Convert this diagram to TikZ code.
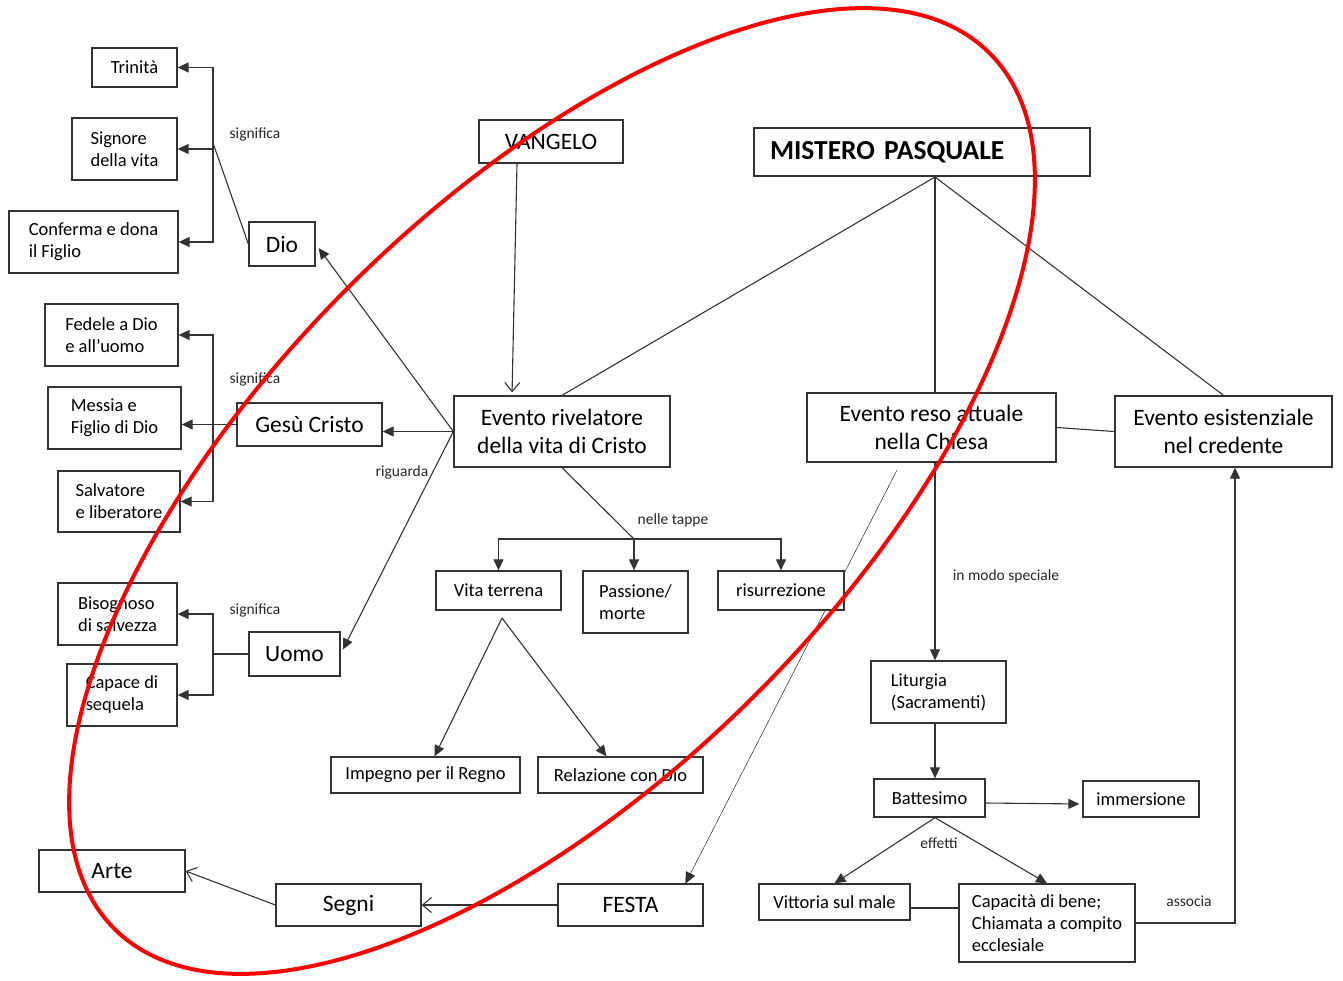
\documentclass[tikz,border=0pt]{standalone}
\usepackage{fontspec}
\setmainfont{Carlito}
\usetikzlibrary{arrows.meta, calc}
\pgfdeclarelayer{back}
\pgfsetlayers{back,main}

\begin{document}
\begin{tikzpicture}[x=1pt, y=-1pt, line width=1.1pt, draw=black!80,
    box/.style={draw=black!80, fill=white, line width=1.3pt, inner sep=2pt, align=left,
        font=\fontsize{18.5}{22}\selectfont},
    big/.style={box, align=center, font=\fontsize{23.5}{28}\selectfont},
    sz/.style 2 args={minimum width=#1pt, minimum height=#2pt},
    lbl/.style={font=\fontsize{15.5}{18}\selectfont, text=black!85},
    tri/.style={-{Triangle[length=11pt, width=10pt]}},
    opn/.style={-{Straight Barb[length=9pt, width=15pt]}}]
    \useasboundingbox (0,0) rectangle (1343,980);

    \node[box, sz={85}{39}] (trinita) at (134.5,67.5) {Trinità};
    \node[box, sz={105}{62}] (signore) at (124.5,149) {Signore\\della vita};
    \node[box, sz={169}{62}] (conferma) at (93.5,242) {Conferma e dona\\il Figlio};
    \node[big, sz={66}{44}] (dio) at (282,244) {Dio};
    \node[box, sz={133}{62}] (fedele) at (111.5,335) {Fedele a Dio\\e all’uomo};
    \node[box, sz={133}{62}] (messia) at (114.5,418) {Messia e\\Figlio di Dio};
    \node[big, sz={145}{43}] (gesu) at (309.5,424.5) {Gesù Cristo};
    \node[box, sz={122}{61}] (salvatore) at (119,501.5) {Salvatore\\e liberatore};
    \node[box, sz={119}{62}] (bisognoso) at (117.5,614) {Bisognoso\\di salvezza};
    \node[box, sz={110}{62}] (capace) at (122,695) {Capace di\\sequela};
    \node[big, sz={91}{44}] (uomo) at (294.5,654) {Uomo};

    \node[big, sz={144}{43}] (vangelo) at (551,141.5) {VANGELO};
    \node[box, sz={336}{48}, inner xsep=16pt, text width=304pt,
        font=\fontsize{27.5}{30}\selectfont\bfseries] (mistero) at (922,152) {MISTERO PASQUALE};
    \node[big, sz={216}{71}] (rivelatore) at (562,431.5) {Evento rivelatore\\della vita di Cristo};
    \node[big, sz={249}{69}] (attuale) at (931.5,427.5) {Evento reso attuale\\nella Chiesa};
    \node[big, sz={217}{71}] (esistenziale) at (1223.5,431.5) {Evento esistenziale\\nel credente};

    \node[box, sz={125}{39}] (vita) at (498.5,590.5) {Vita terrena};
    \node[box, sz={105}{62}] (passione) at (635.5,602) {Passione/\\morte};
    \node[box, sz={126}{39}] (risurrezione) at (781,590.5) {risurrezione};
    \node[box, sz={189}{36}] (impegno) at (425.5,775) {Impegno per il Regno};
    \node[box, sz={165}{36}] (relazione) at (620.5,775) {Relazione con Dio};

    \node[box, sz={135}{62}] (liturgia) at (938.5,692) {Liturgia\\(Sacramenti)};
    \node[box, sz={111}{38}] (battesimo) at (929.5,798) {Battesimo};
    \node[box, sz={116}{36}] (immersione) at (1141,799) {immersione};
    \node[box, sz={151}{36}] (vittoria) at (834.5,902) {Vittoria sul male};
    \node[box, sz={176}{78}] (capacita) at (1047,923) {Capacità di bene;\\Chiamata a compito\\ecclesiale};

    \node[big, sz={146}{42}] (arte) at (112,871) {Arte};
    \node[big, sz={145}{42}] (segni) at (348.5,905) {Segni};
    \node[big, sz={145}{42}] (festa) at (630.5,905) {FESTA};

    \node[lbl] (sig1) at (255,134) {significa};
    \node[lbl] (sig2) at (255,379) {significa};
    \node[lbl] (sig3) at (255,610) {significa};
    \node[lbl] (rig) at (402,472) {riguarda};
    \node[lbl] (tap) at (673,520) {nelle tappe};
    \node[lbl] (spec) at (1006,576) {in modo speciale};
    \node[lbl] (eff) at (939,843) {effetti};
    \node[lbl] (ass) at (1189,901) {associa};

    \coordinate (dj) at (213,143);
    \coordinate (gj) at (213,424.5);
    \coordinate (uj) at (213,654);
    \coordinate (mp) at (935,177);
    \coordinate (nt) at (634,539);
    \coordinate (vt) at (502,618);
    \coordinate (af) at (897,470);

    \draw (dio.west) -- (dj);
    \draw[tri] (dj) |- (trinita);
    \draw[tri] (dj) |- (signore);
    \draw[tri] (dj) |- (conferma);
    \draw[tri] (gesu) -- (messia.east |- gesu);
    \draw[tri] (gj) |- (fedele);
    \draw[tri] (gj) |- (salvatore);
    \draw (uomo) -- (uj);
    \draw[tri] (uj) |- (bisognoso);
    \draw[tri] (uj) |- (capace);

    \draw[tri] (rivelatore.west) -- (gesu.east |- rivelatore.west);
    \draw[tri, shorten >=5pt] (rivelatore.west) -- (dio.east);
    \draw[tri, shorten >=5pt] (rivelatore.west) -- (uomo.east);
    \draw[opn, shorten >=3pt] ([xshift=-34pt]vangelo.south) -- ([xshift=-50pt]rivelatore.north);

    \draw (mp) -- (rivelatore.north);
    \draw (mp) -- (mp |- attuale.north);
    \draw (mp) -- (esistenziale.north);
    \draw (attuale.east) -- (esistenziale.west);

    \draw (rivelatore.south) -- (nt);
    \draw[tri] (nt) -| (vita);
    \draw[tri] (nt) -- (nt |- passione.north);
    \draw[tri] (nt) -| (risurrezione);
    \draw[tri] (vt) -- (impegno);
    \draw[tri] (vt) -- (relazione);

    \draw[tri] (mp |- attuale.south) -- (mp |- liturgia.north);
    \draw[tri] (mp |- liturgia.south) -- (mp |- battesimo.north);
    \draw[tri, shorten >=3pt] ([yshift=-5pt]battesimo.east) -- ([yshift=-5pt]immersione.west);
    \draw[tri] (mp |- battesimo.south) -- (vittoria.north);
    \draw[tri] (mp |- battesimo.south) -- (capacita.north);
    \draw ([yshift=-6pt]vittoria.east) -- ([yshift=-6pt]vittoria.east -| capacita.west);
    \draw[tri] (capacita.east) -| ([xshift=11.5pt]esistenziale.south);

    \draw[opn] (festa) -- (segni);
    \draw[opn] (segni.west) -- (arte.east);

    \begin{pgfonlayer}{back}
        \draw[tri] (af) -- ([xshift=55pt]festa.north);
    \end{pgfonlayer}

    \draw[red, line width=4pt, rotate around={45:(552,491)}]
        (552,491) ellipse [x radius=619pt, y radius=288pt];
\end{tikzpicture}
\end{document}
